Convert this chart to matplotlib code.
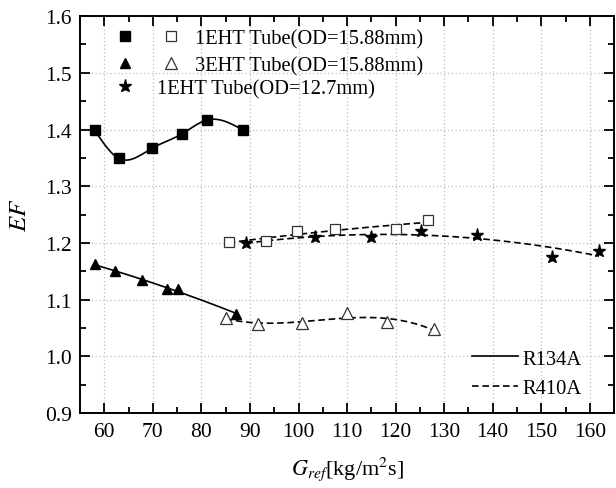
import numpy as np
import matplotlib
matplotlib.use("Agg")
import matplotlib.pyplot as plt
from matplotlib.legend_handler import HandlerTuple
from matplotlib.ticker import MultipleLocator

plt.rcParams['font.family'] = ['Liberation Serif', 'DejaVu Serif']
plt.rcParams['mathtext.fontset'] = 'stix'

# ---- data: enhancement factor EF vs. refrigerant mass flux G_ref ----
# R134A, 1EHT tube (OD = 15.88 mm)
g_1eht_r134a = [58.0, 63.0, 69.8, 75.9, 81.2, 88.6]
ef_1eht_r134a = [1.399, 1.349, 1.367, 1.392, 1.417, 1.399]
# R134A, 3EHT tube (OD = 15.88 mm)
g_3eht_r134a = [58.0, 62.2, 67.7, 72.8, 75.2, 87.2]
ef_3eht_r134a = [1.163, 1.150, 1.134, 1.119, 1.119, 1.075]
# R410A, 1EHT tube (OD = 15.88 mm)
g_1eht_r410a = [85.6, 93.3, 99.6, 107.5, 120.0, 126.6]
ef_1eht_r410a = [1.201, 1.204, 1.221, 1.224, 1.224, 1.241]
# R410A, 3EHT tube (OD = 15.88 mm)
g_3eht_r410a = [85.0, 91.6, 100.8, 109.9, 118.3, 127.8]
ef_3eht_r410a = [1.068, 1.057, 1.059, 1.076, 1.060, 1.048]
# R410A, 1EHT tube (OD = 12.7 mm)
g_1eht127_r410a = [89.2, 103.4, 115.0, 125.2, 136.8, 152.2, 161.9]
ef_1eht127_r410a = [1.200, 1.210, 1.211, 1.221, 1.214, 1.175, 1.186]

legend_labels = ["1EHT Tube(OD=15.88mm)", "3EHT Tube(OD=15.88mm)",
                 "1EHT Tube(OD=12.7mm)"]
fluid_labels = ["R134A", "R410A"]


def natural_spline(x, y, n=200):
    """Natural cubic spline through (x, y), evaluated on a dense grid."""
    x = np.asarray(x, float)
    y = np.asarray(y, float)
    m = len(x)
    h = np.diff(x)
    A = np.zeros((m, m))
    r = np.zeros(m)
    A[0, 0] = A[-1, -1] = 1.0
    for i in range(1, m - 1):
        A[i, i - 1] = h[i - 1]
        A[i, i] = 2 * (h[i - 1] + h[i])
        A[i, i + 1] = h[i]
        r[i] = 6 * ((y[i + 1] - y[i]) / h[i] - (y[i] - y[i - 1]) / h[i - 1])
    M = np.linalg.solve(A, r)
    xs = np.linspace(x[0], x[-1], n)
    idx = np.clip(np.searchsorted(x, xs) - 1, 0, m - 2)
    x0, x1 = x[idx], x[idx + 1]
    hh = x1 - x0
    a = (x1 - xs) / hh
    b = (xs - x0) / hh
    ys = (a * y[idx] + b * y[idx + 1]
          + ((a ** 3 - a) * M[idx] + (b ** 3 - b) * M[idx + 1]) * hh ** 2 / 6)
    return xs, ys


def poly_curve(x, y, deg, n=200):
    c = np.polyfit(x, y, deg)
    xs = np.linspace(min(x), max(x), n)
    return xs, np.polyval(c, xs)


fig = plt.figure(figsize=(6.16, 4.89), dpi=100)
ax = fig.add_axes([0.13, 0.153, 0.867, 0.812])

lw = 1.2
dash = (0, (4, 2.2))
fs = 14.8

# fitted curves
ax.plot(*natural_spline(g_1eht_r134a, ef_1eht_r134a), color='black', lw=lw)
ax.plot(*poly_curve(g_3eht_r134a, ef_3eht_r134a, 2), color='black', lw=lw)
ax.plot(*poly_curve(g_1eht_r410a, ef_1eht_r410a, 2), color='black', lw=lw, ls=dash)
ax.plot(*poly_curve(g_3eht_r410a, ef_3eht_r410a, 3), color='black', lw=lw, ls=dash)
ax.plot(*poly_curve(g_1eht127_r410a, ef_1eht127_r410a, 2), color='black', lw=lw, ls=dash)

# measured points
sq_f, = ax.plot(g_1eht_r134a, ef_1eht_r134a, ls='none', marker='s', ms=6.8,
                color='black')
tr_f, = ax.plot(g_3eht_r134a, ef_3eht_r134a, ls='none', marker='^', ms=7.8,
                color='black')
sq_o, = ax.plot(g_1eht_r410a, ef_1eht_r410a, ls='none', marker='s', ms=6.8,
                mfc='white', mec='#333333', mew=0.9)
tr_o, = ax.plot(g_3eht_r410a, ef_3eht_r410a, ls='none', marker='^', ms=8,
                mfc='white', mec='#333333', mew=0.9)
star, = ax.plot(g_1eht127_r410a, ef_1eht127_r410a, ls='none', marker='*',
                ms=9.5, color='black')

# axes
ax.set_xlim(55, 165)
ax.set_ylim(0.9, 1.6)
ax.xaxis.set_major_locator(MultipleLocator(10))
ax.xaxis.set_minor_locator(MultipleLocator(5))
ax.yaxis.set_major_locator(MultipleLocator(0.1))
ax.yaxis.set_minor_locator(MultipleLocator(0.05))
ax.yaxis.set_major_formatter(plt.FormatStrFormatter('%.1f'))
ax.tick_params(which='both', direction='in', top=True, right=True,
               width=1.3, labelsize=15.5, colors='black')
ax.tick_params(which='major', length=7, pad=6)
ax.tick_params(which='minor', length=4)
for s in ax.spines.values():
    s.set_linewidth(1.4)
ax.grid(True, which='major', ls=(0, (1, 2)), color='#bdbdbd', lw=0.9)
ax.set_axisbelow(True)

ax.set_ylabel(r'$\mathit{EF}$', fontsize=18, labelpad=10)
ax.set_xlabel(r'$\mathit{G}_{\mathit{ref}}$[kg/m$^2$s]', fontsize=16,
              labelpad=10)

# legends
leg_a = ax.legend([(sq_f, sq_o), (tr_f, tr_o)], legend_labels[:2],
                  handler_map={tuple: HandlerTuple(ndivide=None, pad=0.5)},
                  loc='upper left', bbox_to_anchor=(0.0506, 0.967),
                  frameon=False, fontsize=fs, borderpad=0, borderaxespad=0,
                  handlelength=3.98, handletextpad=0.3, labelspacing=0.34)
ax.add_artist(leg_a)
leg_b = ax.legend([star], legend_labels[2:], loc='upper left',
                  bbox_to_anchor=(0.0554, 0.841), frameon=False, fontsize=fs,
                  borderpad=0, borderaxespad=0, handlelength=1.5,
                  handletextpad=0.81)
ax.add_artist(leg_b)
solid_h, = ax.plot([], [], color='black', lw=lw)
dash_h, = ax.plot([], [], color='black', lw=lw, ls=dash)
ax.legend([solid_h, dash_h], fluid_labels, loc='upper left',
          bbox_to_anchor=(0.734, 0.161), frameon=False, fontsize=fs,
          borderpad=0, borderaxespad=0, handlelength=2.24,
          handletextpad=0.2, labelspacing=0.5)

fig.savefig('out.png', dpi=100)
